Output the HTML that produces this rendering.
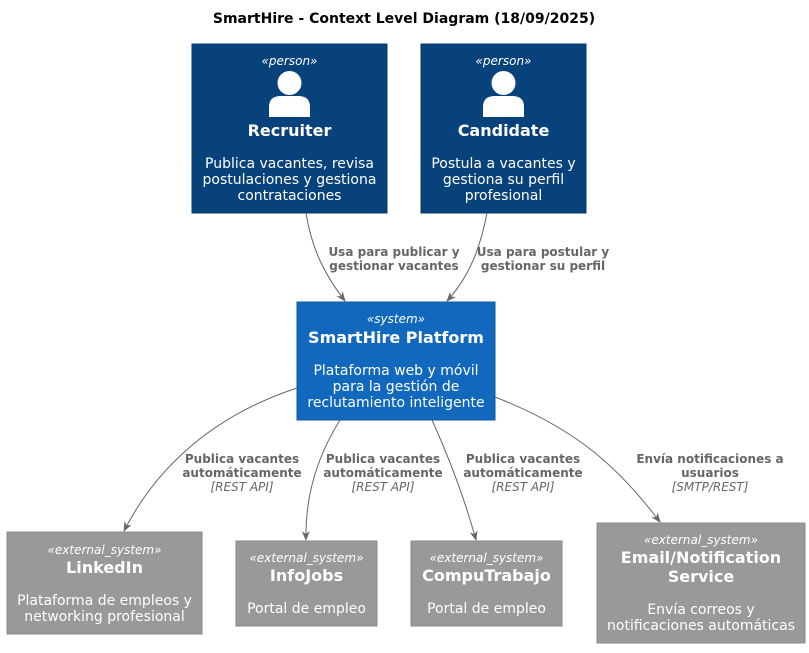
<!DOCTYPE html>
<html><head><meta charset="utf-8"><style>
body{margin:0;background:#fff}
svg text{font-family:"DejaVu Sans","Liberation Sans",sans-serif}
.st{font-size:12px;font-style:italic;fill:#fff}
.tt{font-size:16px;font-weight:bold;fill:#fff}
.ds{font-size:14px;fill:#fff}
.el{font-size:12px;font-weight:bold;fill:#666}
.et{font-size:12px;font-style:italic;fill:#666}
</style></head><body>
<svg width="809" height="648" viewBox="0 0 809 648" xmlns="http://www.w3.org/2000/svg">
<defs><marker id="a" markerWidth="10" markerHeight="10" refX="9" refY="5" orient="auto" markerUnits="userSpaceOnUse"><path d="M0,1 L10,5 L0,9 L3,5 z" fill="#666"/></marker></defs>
<text x="404" y="23" text-anchor="middle" font-size="14" font-weight="bold" fill="#000">SmartHire - Context Level Diagram (18/09/2025)</text>

<rect x="192" y="44" width="195" height="169" fill="#08427B" stroke="#073B6F"/>
<text x="289.5" y="65" text-anchor="middle" class="st">«person»</text>
<circle cx="289.5" cy="83" r="12" fill="#fff"/>
<path d="M269,117 v-10 q0,-11 12,-11 h17 q12,0 12,11 v10 z" fill="#fff"/>
<text x="289.5" y="136" text-anchor="middle" class="tt">Recruiter</text>
<text x="289.5" y="168" text-anchor="middle" class="ds">Publica vacantes, revisa</text>
<text x="289.5" y="184" text-anchor="middle" class="ds">postulaciones y gestiona</text>
<text x="289.5" y="200" text-anchor="middle" class="ds">contrataciones</text>

<rect x="421" y="44" width="165" height="169" fill="#08427B" stroke="#073B6F"/>
<text x="503.5" y="65" text-anchor="middle" class="st">«person»</text>
<circle cx="503.5" cy="83" r="12" fill="#fff"/>
<path d="M483,117 v-10 q0,-11 12,-11 h17 q12,0 12,11 v10 z" fill="#fff"/>
<text x="503.5" y="136" text-anchor="middle" class="tt">Candidate</text>
<text x="503.5" y="168" text-anchor="middle" class="ds">Postula a vacantes y</text>
<text x="503.5" y="184" text-anchor="middle" class="ds">gestiona su perfil</text>
<text x="503.5" y="200" text-anchor="middle" class="ds">profesional</text>

<rect x="297" y="302" width="198" height="118" fill="#1168BD" stroke="#0E5AA7"/>
<text x="396" y="323" text-anchor="middle" class="st">«system»</text>
<text x="396" y="343" text-anchor="middle" class="tt">SmartHire Platform</text>
<text x="396" y="375" text-anchor="middle" class="ds">Plataforma web y móvil</text>
<text x="396" y="391" text-anchor="middle" class="ds">para la gestión de</text>
<text x="396" y="407" text-anchor="middle" class="ds">reclutamiento inteligente</text>

<g fill="none" stroke="#666" stroke-width="1" marker-end="url(#a)">
<path d="M306,213 C312,250 325,275 345,301"/>
<path d="M487,213 C480,250 468,278 447,301"/>
<path d="M297,388 C200,420 150,480 124,531"/>
<path d="M340,420 C315,460 305,500 306,540"/>
<path d="M432,420 C450,460 465,500 476,540"/>
<path d="M495,397 C580,430 620,470 660,522"/>
</g>
<g text-anchor="middle">
<text x="394" y="256" class="el">Usa para publicar y</text>
<text x="394" y="270" class="el">gestionar vacantes</text>
<text x="543" y="256" class="el">Usa para postular y</text>
<text x="543" y="270" class="el">gestionar su perfil</text>
<text x="242" y="463" class="el">Publica vacantes</text>
<text x="242" y="477" class="el">automáticamente</text>
<text x="242" y="491" class="et">[REST API]</text>
<text x="383" y="463" class="el">Publica vacantes</text>
<text x="383" y="477" class="el">automáticamente</text>
<text x="383" y="491" class="et">[REST API]</text>
<text x="523" y="463" class="el">Publica vacantes</text>
<text x="523" y="477" class="el">automáticamente</text>
<text x="523" y="491" class="et">[REST API]</text>
<text x="710" y="463" class="el">Envía notificaciones a</text>
<text x="710" y="477" class="el">usuarios</text>
<text x="710" y="491" class="et">[SMTP/REST]</text>
</g>

<g text-anchor="middle">
<rect x="7" y="532" width="195" height="102" fill="#999" stroke="#8A8A8A"/>
<text x="104.5" y="554" class="st">«external_system»</text>
<text x="104.5" y="573" class="tt">LinkedIn</text>
<text x="104.5" y="605" class="ds">Plataforma de empleos y</text>
<text x="104.5" y="621" class="ds">networking profesional</text>

<rect x="236" y="541" width="141" height="85" fill="#999" stroke="#8A8A8A"/>
<text x="306.5" y="562" class="st">«external_system»</text>
<text x="306.5" y="581" class="tt">InfoJobs</text>
<text x="306.5" y="613" class="ds">Portal de empleo</text>

<rect x="411" y="541" width="151" height="85" fill="#999" stroke="#8A8A8A"/>
<text x="486.5" y="562" class="st">«external_system»</text>
<text x="486.5" y="581" class="tt">CompuTrabajo</text>
<text x="486.5" y="613" class="ds">Portal de empleo</text>

<rect x="597" y="523" width="208" height="120" fill="#999" stroke="#8A8A8A"/>
<text x="701" y="544" class="st">«external_system»</text>
<text x="701" y="563" class="tt">Email/Notification</text>
<text x="701" y="582" class="tt">Service</text>
<text x="701" y="614" class="ds">Envía correos y</text>
<text x="701" y="630" class="ds">notificaciones automáticas</text>
</g>
</svg>
</body></html>
